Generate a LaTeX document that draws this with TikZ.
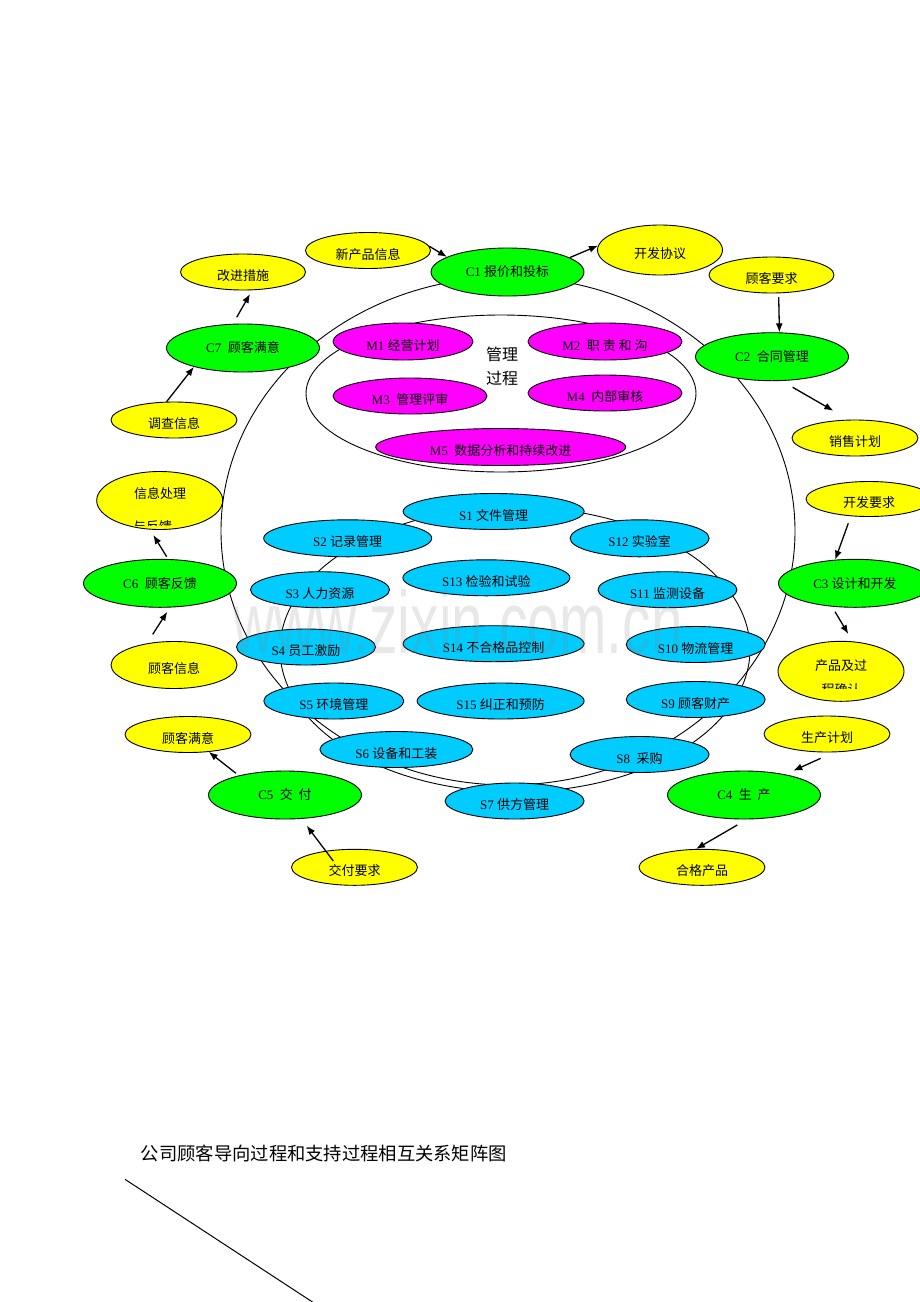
\documentclass[tikz,border=0pt]{standalone}
\usepackage{fontspec}
\setmainfont{Liberation Serif}
\newfontfamily\cjkfont{Noto Sans CJK SC}
\newfontfamily\wmfont{Liberation Sans}
\usetikzlibrary{shapes.geometric,arrows.meta}
\newcommand\zhtxt[1]{{\cjkfont #1}}
\definecolor{cyellow}{HTML}{FFFF00}
\definecolor{cgreen}{HTML}{00FF00}
\definecolor{cmagenta}{HTML}{FF00FF}
\definecolor{ccyan}{HTML}{00CCFF}
\begin{document}
\begin{tikzpicture}[x=1pt,y=-1pt,
  every node/.style={inner sep=0pt},
  bub/.style={ellipse, draw=black, line width=0.9pt, font=\fontsize{13}{15}\selectfont},
  low/.style={text height=17pt, text depth=0pt},
  yel/.style={bub, low, fill=cyellow},
  grn/.style={bub, fill=cgreen},
  mag/.style={bub, low, fill=cmagenta},
  cyn/.style={bub, low, fill=ccyan},
  sz/.style 2 args={minimum width=#1, minimum height=#2},
  ring/.style={draw=black, line width=0.9pt},
  arr/.style={draw=black, line width=1.3pt, -{Latex[length=9pt,width=7pt]}}
]
\useasboundingbox (0,0) rectangle (920,1302);

% rings behind
\draw[ring] (508,531) ellipse [x radius=287, y radius=254];
\draw[ring] (515,649.5) ellipse [x radius=235, y radius=142.5];
\draw[ring] (501,393.5) ellipse [x radius=195, y radius=78.5];

% management
\node[mag, sz={140}{37}] (M1) at (403,341.5) {M1 \zhtxt{经营计划}};
\node[mag, sz={154}{37}] (M2) at (605,341.5) {M2\ \ \zhtxt{职 责 和 沟}};
\node[mag, sz={154}{36}] (M3) at (410,396) {M3\ \ \zhtxt{管理评审}};
\node[mag, sz={154}{36}] (M4) at (605,393) {M4\ \ \zhtxt{内部审核}};
\node[mag, sz={250}{37}] (M5) at (500.7,447) {M5\ \ \zhtxt{数据分析和持续改进}};
\node[font=\cjkfont\fontsize{16}{24}\selectfont, align=center] (mgt) at (502,366) {管理\\过程};

% support
\node[cyn, sz={181}{36}] (S1) at (493.6,511.5) {S1 \zhtxt{文件管理}};
\node[cyn, sz={168}{37}] (S2) at (347.7,538.3) {S2 \zhtxt{记录管理}};
\node[cyn, sz={139}{37}] (S12) at (639.6,538.3) {S12 \zhtxt{实验室}};
\node[cyn, sz={167}{36}] (S13) at (486.4,577.8) {S13 \zhtxt{检验和试验}};
\node[cyn, sz={139}{36}] (S3) at (320,589.7) {S3 \zhtxt{人力资源}};
\node[cyn, sz={139}{36}] (S11) at (667.5,589.7) {S11 \zhtxt{监测设备}};
\node[cyn, sz={139}{36}] (S4) at (306,647) {S4 \zhtxt{员工激励}};
\node[cyn, sz={181}{36}] (S14) at (493.6,643.7) {S14 \zhtxt{不合格品控制}};
\node[cyn, sz={139}{36}] (S10) at (695.7,644.5) {S10 \zhtxt{物流管理}};
\node[cyn, sz={140}{36}] (S5) at (333.8,701) {S5 \zhtxt{环境管理}};
\node[cyn, sz={167}{36}] (S15) at (500.6,701) {S15 \zhtxt{纠正和预防}};
\node[cyn, sz={139}{36}] (S9) at (695.7,699.5) {S9 \zhtxt{顾客财产}};
\node[cyn, sz={153}{36}] (S6) at (396.4,749.5) {S6 \zhtxt{设备和工装}};
\node[cyn, sz={139}{36}] (S8) at (639.6,754.5) {S8\ \ \zhtxt{采购}};
\node[cyn, sz={139}{36}] (S7) at (514.6,801) {S7 \zhtxt{供方管理}};

% customer processes
\node[grn, sz={153}{48}] (C1) at (507.5,272) {C1 \zhtxt{报价和投标}};
\node[grn, sz={153}{48}] (C2) at (772,356.7) {C2\ \ \zhtxt{合同管理}};
\node[grn, sz={153}{48}] (C3) at (855,583.3) {C3 \zhtxt{设计和开发}};
\node[grn, sz={153}{48}] (C4) at (744,795) {C4\ \ \zhtxt{生\ \ 产}};
\node[grn, sz={153}{48}] (C5) at (285,795) {C5\ \ \zhtxt{交\ \ 付}};
\node[grn, sz={153}{48}] (C6) at (160,583.3) {C6\ \ \zhtxt{顾客反馈}};
\node[grn, sz={153}{48}] (C7) at (243,348) {C7\ \ \zhtxt{顾客满意}};

% inputs / outputs
\node[yel, sz={125}{36}] (new) at (368,250.5) {\zhtxt{新产品信息}};
\node[yel, sz={125}{36}] (improve) at (243,272) {\zhtxt{改进措施}};
\node[yel, sz={126}{36}] (survey) at (174,420) {\zhtxt{调查信息}};
\node[yel, sz={125}{50}] (proto) at (660,250) {\zhtxt{开发协议}};
\node[yel, sz={125}{36}] (req) at (771.5,275) {\zhtxt{顾客要求}};
\node[yel, sz={126}{36}] (sales) at (855,438) {\zhtxt{销售计划}};
\node[yel, sz={126}{58}] (info) at (159.7,500.5) {};
\node[font=\cjkfont\fontsize{13}{15}\selectfont] (infoA) at (160,494) {信息处理};
\begin{scope}
  \clip (90,470) rectangle (230,525);
  \node[font=\cjkfont\fontsize{13}{15}\selectfont, anchor=base west] (infoB) at (133,531.4) {与反馈};
\end{scope}
\node[yel, sz={126}{47}] (cinfo) at (174,665) {\zhtxt{顾客信息}};
\node[yel, sz={126}{35}] (devreq) at (869,499) {\zhtxt{开发要求}};
\node[yel, sz={126}{60}] (prod) at (841,671.3) {};
\node[font=\cjkfont\fontsize{13}{15}\selectfont] (prodA) at (841,666) {产品及过};
\begin{scope}
  \clip (775,640) rectangle (910,688.5);
  \node[font=\cjkfont\fontsize{13}{15}\selectfont, anchor=base] (prodB) at (841,694.7) {程确认};
\end{scope}
\node[yel, sz={126}{36}] (csat) at (188,734.5) {\zhtxt{顾客满意}};
\node[yel, sz={126}{36}] (dreq) at (354.5,867.3) {\zhtxt{交付要求}};
\node[yel, sz={126}{36}] (plan) at (827,734) {\zhtxt{生产计划}};
\node[yel, sz={126}{36}] (qual) at (702,867.3) {\zhtxt{合格产品}};

% free arrow ends
\coordinate (cS) at (778.7,297);
\coordinate (dS) at (792.7,387.3);
\coordinate (dE) at (833.3,410.7);
\coordinate (eS) at (848.3,523.3);
\coordinate (fS) at (835,611.7);
\coordinate (fE) at (848.3,634);
\coordinate (gS) at (820.7,758.3);
\coordinate (gE) at (793.3,770.7);
\coordinate (hS) at (737.3,825);
\coordinate (iS) at (333.3,861);
\coordinate (iE) at (306.7,825.7);
\coordinate (jS) at (236,773.3);
\coordinate (kS) at (152.7,634.3);
\coordinate (kE) at (167.3,611.7);
\coordinate (lS) at (166.7,556.7);
\coordinate (lE) at (153.3,535);
\coordinate (nS) at (236.7,317.3);
\coordinate (nE) at (250,294);

% arrows
\draw[arr] (new.4) -- (C1.166);
\draw[arr] (C1.13) -- (proto.176);
\draw[arr] (cS) -- (C2.73);
\draw[arr] (dS) -- (dE);
\draw[arr] (eS) -- (C3.130);
\draw[arr] (fS) -- (fE);
\draw[arr] (gS) -- (gE);
\draw[arr] (hS) -- (qual.108);
\draw[arr] (iS) -- (iE);
\draw[arr] (jS) -- (csat.-40);
\draw[arr] (kS) -- (kE);
\draw[arr] (lS) -- (lE);
\draw[arr] (survey.112) -- (C7.201);
\draw[arr] (nS) -- (nE);

% watermark
\begin{scope}[shift={(233,653)}]
  \node[anchor=base west, yscale=1.55, transform shape, font=\wmfont\fontsize{57}{60}\selectfont, text=gray, text opacity=0.18] (wm) at (0,0) {www.zixin.com.cn};
\end{scope}

% title and line
\node[anchor=west, font=\cjkfont\fontsize{18.3}{21}\selectfont] (title) at (140.7,1153.3) {公司顾客导向过程和支持过程相互关系矩阵图};
\coordinate (dl1) at (125,1179.3);
\coordinate (dl2) at (314,1303);
\draw[line width=1pt] (dl1) -- (dl2);
\end{tikzpicture}
\end{document}
